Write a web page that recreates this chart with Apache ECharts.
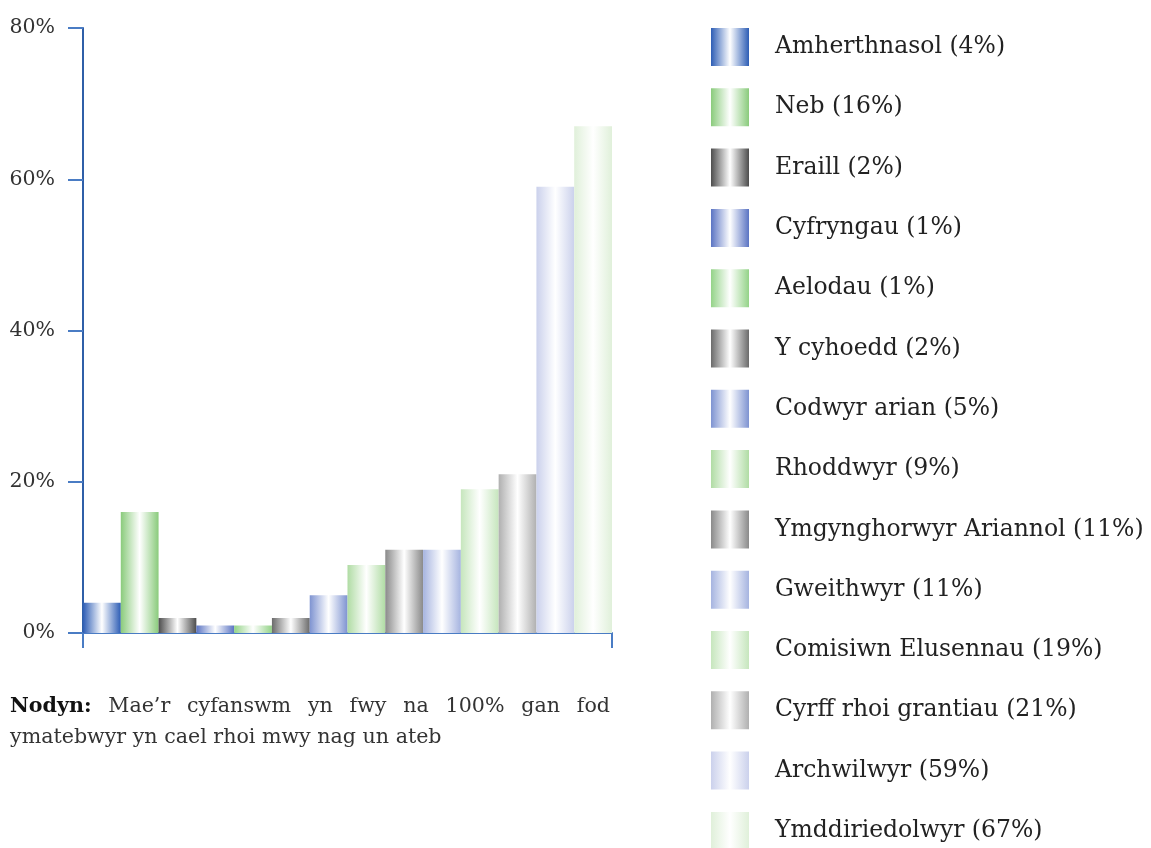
<!DOCTYPE html>
<html>
<head>
<meta charset="utf-8">
<script src="https://cdn.jsdelivr.net/npm/echarts@6/dist/echarts.min.js"></script>
<style>
  html, body { margin: 0; padding: 0; background: #fff; }
  #chart { width: 1151px; height: 848px; }
  .note {
    position: absolute; left: 10px; top: 690px; width: 600px;
    font-family: "DejaVu Serif", serif;
    font-size: 20.6px; line-height: 31px; color: #333;
  }
  .note .l1 { text-align: justify; text-align-last: justify; }
  .note b { color: #111; }
</style>
</head>
<body>
<div id="chart"></div>
<div class="note">
  <div class="l1"><b>Nodyn:</b> Mae’r cyfanswm yn fwy na 100% gan fod</div>
  <div>ymatebwyr yn cael rhoi mwy nag un ateb</div>
</div>
<script>
  // data
  var names = ['Amherthnasol', 'Neb', 'Eraill', 'Cyfryngau', 'Aelodau', 'Y cyhoedd', 'Codwyr arian',
    'Rhoddwyr', 'Ymgynghorwyr Ariannol', 'Gweithwyr', 'Comisiwn Elusennau', 'Cyrff rhoi grantiau',
    'Archwilwyr', 'Ymddiriedolwyr'];
  var values = [4, 16, 2, 1, 1, 2, 5, 9, 11, 11, 19, 21, 59, 67];
  var yTicks = [0, 20, 40, 60, 80];

  // edge colours of the bar gradients
  var colors = ['#2d5db5', '#8acb7c', '#4d4d4d', '#5b74c3', '#94d388', '#6b6b6b', '#7e93d1',
    '#b0dca4', '#8a8a8a', '#a6b4e0', '#c6e6bd', '#b0b0b0', '#cbd1ec', '#e0f0da'];

  function grad(c) {
    return new echarts.graphic.LinearGradient(0, 0, 1, 0, [
      {offset: 0, color: c},
      {offset: 0.5, color: '#ffffff'},
      {offset: 1, color: c}
    ]);
  }

  var series = names.map(function (n, i) {
    return {
      name: n,
      type: 'bar',
      data: [values[i]],
      barGap: 0,
      barCategoryGap: 0,
      itemStyle: {color: grad(colors[i])},
      emphasis: {disabled: true}
    };
  });

  var myChart = echarts.init(document.getElementById('chart'));
  var option = {
    animation: false,
    grid: {left: 83, right: 539, top: 28, bottom: 215},
    legend: {
      orient: 'vertical',
      left: 711,
      top: 28,
      height: 900,
      padding: 0,
      itemWidth: 38,
      itemHeight: 38,
      itemGap: 22.3,
      icon: 'rect',
      selectedMode: false,
      data: names,
      formatter: function (n) {
        return n + ' (' + values[names.indexOf(n)] + '%)';
      },
      textStyle: {
        fontFamily: 'DejaVu Serif',
        fontSize: 23.5,
        color: '#222',
        padding: [0, 0, 0, 21]
      }
    },
    xAxis: {
      type: 'category',
      data: [''],
      axisLine: {lineStyle: {color: '#4a7cc4', width: 2}},
      axisTick: {show: true, length: 15, lineStyle: {color: '#4a7cc4', width: 2}},
      axisLabel: {show: false}
    },
    yAxis: {
      type: 'value',
      min: yTicks[0],
      max: yTicks[yTicks.length - 1],
      interval: 20,
      splitLine: {show: false},
      axisLine: {show: true, lineStyle: {color: '#2f5fa8', width: 2}},
      axisTick: {show: true, length: 15, lineStyle: {color: '#4a7cc4', width: 2}},
      axisLabel: {
        formatter: '{value}%',
        margin: 28,
        fontFamily: 'DejaVu Serif',
        fontSize: 20.5,
        color: '#333'
      }
    },
    series: series
  };
  myChart.setOption(option);
</script>
</body>
</html>
